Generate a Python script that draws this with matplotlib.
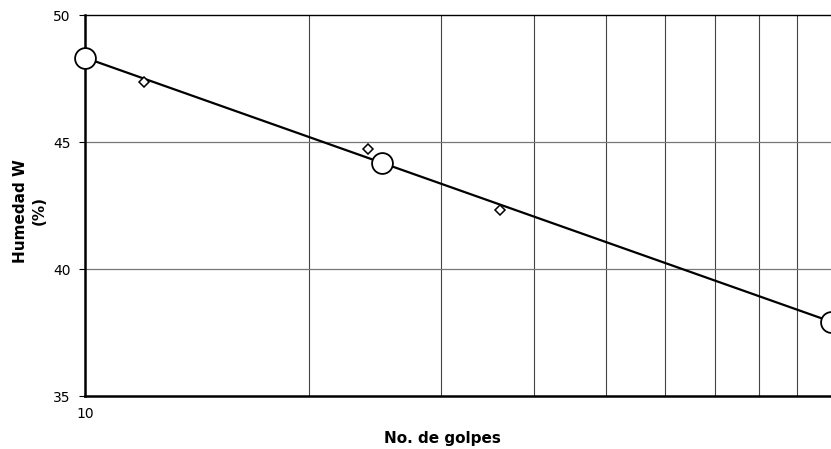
import numpy as np
import matplotlib.pyplot as plt

# ensayo (puntos medidos)
golpes = [12, 24, 36]
humedad = [47.38, 44.74, 42.32]

# recta de ajuste y puntos de referencia
golpes_recta = [10, 25, 100]
humedad_recta = [48.33, 44.19, 37.93]

fig = plt.figure(figsize=(8.31, 4.49), dpi=100)
ax = fig.add_axes([0.102, 0.118, 0.898, 0.848])

ax.set_xscale('log')
ax.set_xlim(10, 100)
ax.set_ylim(35, 50)

grid_x = np.arange(20, 100, 10)
for gx in grid_x:
    ax.axvline(gx, color='#444444', lw=0.8, zorder=1)
for gy in [40, 45]:
    ax.axhline(gy, color='#777777', lw=0.9, zorder=1)

ax.plot(golpes_recta, humedad_recta, color='black', lw=1.6, zorder=3)
ax.plot(golpes_recta, humedad_recta, 'o', ms=15, mfc='white', mec='black',
        mew=1.3, zorder=4, clip_on=False)
ax.plot(golpes, humedad, 'D', ms=5.5, mfc='white', mec='black', mew=1.1, zorder=4)

ax.set_yticks([35, 40, 45, 50])
ax.set_xticks([10])
ax.set_xticklabels(['10'])
ax.xaxis.set_minor_locator(plt.NullLocator())
ax.tick_params(axis='y', direction='out', length=4, width=0.8, labelsize=10, pad=6)
ax.tick_params(axis='x', length=0, labelsize=10, pad=8)

ax.spines['left'].set_linewidth(1.8)
ax.spines['bottom'].set_linewidth(1.8)
ax.spines['top'].set_linewidth(1.0)
ax.spines['right'].set_visible(False)

ax.set_xlabel('No. de golpes', fontsize=11, fontweight='bold')
ax.set_ylabel('Humedad W\n(%)', fontsize=11, fontweight='bold', linespacing=1.3)
ax.xaxis.set_label_coords(0.479, -0.093)
ax.yaxis.set_label_coords(-0.051, 0.486)

fig.savefig('out.png', dpi=100)
